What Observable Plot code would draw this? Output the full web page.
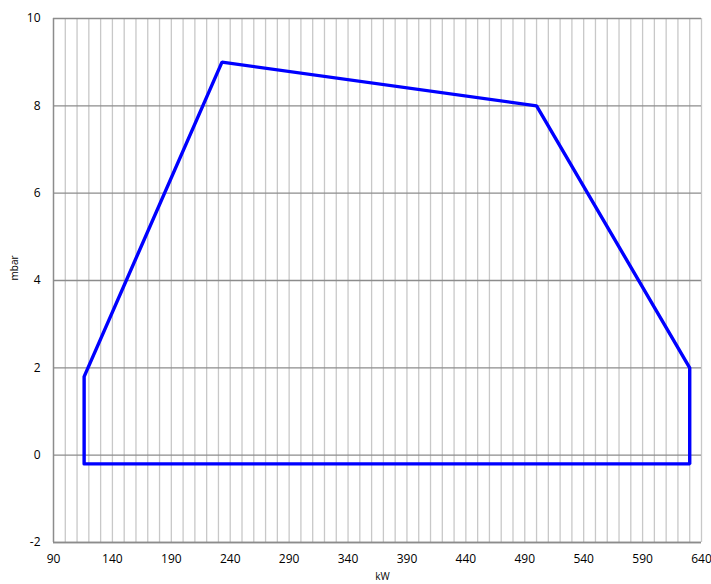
<!DOCTYPE html>
<html>
<head>
<meta charset="utf-8">
<script src="https://cdn.jsdelivr.net/npm/d3@7"></script>
<script src="https://cdn.jsdelivr.net/npm/@observablehq/plot@0.6"></script>
<style>
body { margin: 0; background: #fff; }
#chart { width: 711px; height: 584px; }
</style>
</head>
<body>
<div id="chart"></div>
<script>
const kW = [116, 116, 233, 500, 630, 630, 116];
const mbar = [-0.2, 1.8, 9, 8, 2, -0.2, -0.2];
const xTicks = [90, 140, 190, 240, 290, 340, 390, 440, 490, 540, 590, 640];
const yTicks = [-2, 0, 2, 4, 6, 8, 10];
const xMinorGrid = d3.range(100, 641, 10);

const data = kW.map((x, i) => ({ x, y: mbar[i] }));

const chart = Plot.plot({
  width: 711,
  height: 584,
  marginLeft: 53,
  marginRight: 10,
  marginTop: 18,
  marginBottom: 42,
  style: { fontFamily: "Open Sans, sans-serif", fontSize: "12px", background: "#fff", color: "#000" },
  x: { domain: [90, 640] },
  y: { domain: [-2, 10] },
  marks: [
    Plot.gridX(xMinorGrid, { stroke: "#c8c8c8", strokeOpacity: 1, strokeWidth: 1.3 }),
    Plot.gridY(yTicks, { stroke: "#8c8c8c", strokeOpacity: 1, strokeWidth: 1.3 }),
    Plot.ruleX([90], { stroke: "#8c8c8c", strokeWidth: 1.5 }),
    Plot.ruleY([-2], { stroke: "#8c8c8c", strokeWidth: 1.5 }),
    Plot.axisX(xTicks, { tickSize: 0, tickPadding: 12, fontSize: 12, label: null, tickFormat: d => String(d) }),
    Plot.axisY(yTicks, { tickSize: 0, tickPadding: 13, fontSize: 12, label: null, tickFormat: d => String(d) }),
    Plot.text(["kW"], { frameAnchor: "bottom", dx: 5, dy: 37, fontSize: 10 }),
    Plot.text(["mbar"], { frameAnchor: "left", dx: -39, rotate: -90, fontSize: 10 }),
    Plot.line(data, { x: "x", y: "y", stroke: "#0000ff", strokeWidth: 3.4, strokeLinejoin: "miter" })
  ]
});
document.getElementById("chart").append(chart);
</script>
</body>
</html>
